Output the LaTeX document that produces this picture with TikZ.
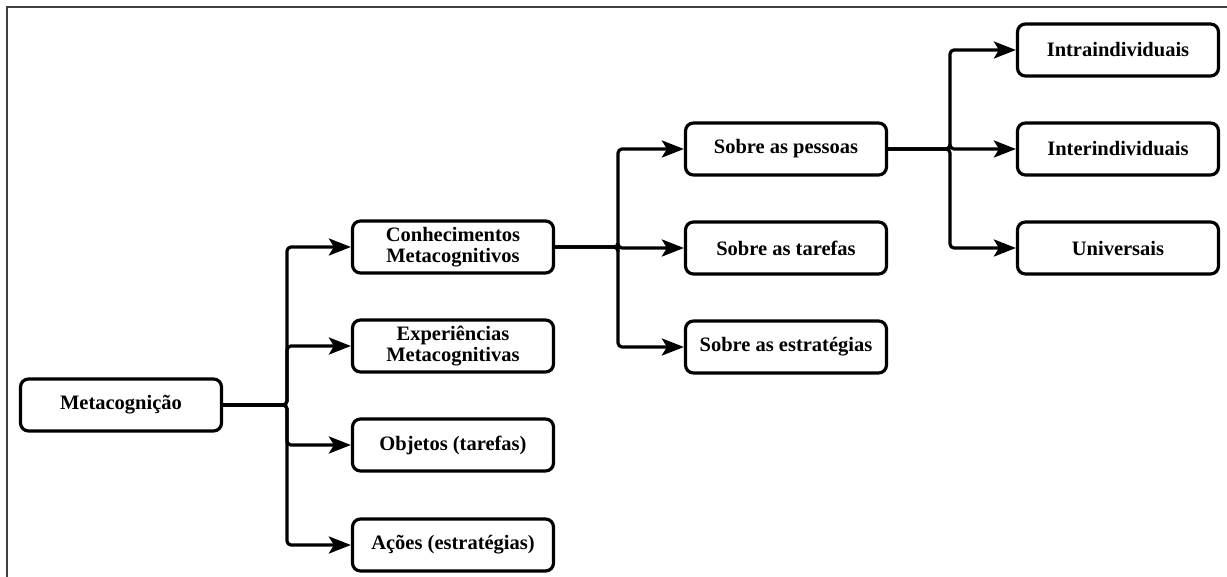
\documentclass[tikz,border=0pt]{standalone}
\usepackage{fontspec}
\setmainfont{Liberation Serif}
\usetikzlibrary{arrows.meta}
\begin{document}
\begin{tikzpicture}[x=1pt,y=-1pt,
  box/.style={draw=black, line width=3.2pt, rounded corners=8pt, fill=white,
    minimum width=201pt, minimum height=52pt, inner sep=2pt, align=center,
    font=\fontsize{20.5}{20.5}\selectfont\bfseries},
  conn/.style={line width=3.2pt, rounded corners=4pt, line join=round,
    -{Stealth[length=22pt,width=17pt,inset=5pt]}},
  frameline/.style={draw=black!75, line width=1.3pt}]
\useasboundingbox (0,0) rectangle (1227,577);
\coordinate (f1) at (7,577);
\coordinate (f2) at (7,7);
\coordinate (f3) at (1227,7);
\draw[frameline] (f1) -- (f2) -- (f3);

\node[box] (meta) at (121,405) {Metacognição};
\node[box] (conh) at (453,247) {Conhecimentos\\Metacognitivos};
\node[box] (expe) at (453,346) {Experiências\\Metacognitivas};
\node[box] (obje) at (453,445) {Objetos (tarefas)};
\node[box] (acoe) at (453,545) {Ações (estratégias)};
\node[box] (pess) at (786,149) {Sobre as pessoas};
\node[box] (tare) at (786,248) {Sobre as tarefas};
\node[box] (estr) at (786,347) {Sobre as estratégias};
\node[box] (intra) at (1118,50) {Intraindividuais};
\node[box] (inter) at (1118,149) {Interindividuais};
\node[box] (univ) at (1118,248) {Universais};

\coordinate (b1) at (287,405);
\coordinate (b2) at (618,247);
\coordinate (b3) at (950,149);

\foreach \c in {conh,expe,obje,acoe}
  \draw[conn] (meta.east) -- (b1) |- (\c.west);
\foreach \c in {pess,tare,estr}
  \draw[conn] (conh.east) -- (b2) |- (\c.west);
\foreach \c in {intra,inter,univ}
  \draw[conn] (pess.east) -- (b3) |- (\c.west);
\end{tikzpicture}
\end{document}
